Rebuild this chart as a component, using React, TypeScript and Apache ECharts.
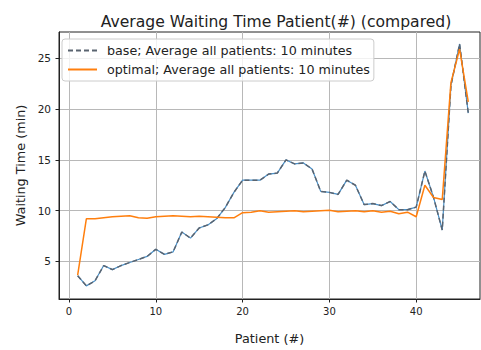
import React, { useEffect, useRef } from "react";
import * as echarts from "echarts";

const patients = [1, 2, 3, 4, 5, 6, 7, 8, 9, 10, 11, 12, 13, 14, 15, 16, 17, 18, 19, 20, 21, 22, 23, 24, 25, 26, 27, 28, 29, 30, 31, 32, 33, 34, 35, 36, 37, 38, 39, 40, 41, 42, 43, 44, 45, 46];

const baseValues = [3.6, 2.6, 3.1, 4.6, 4.2, 4.6, 4.9, 5.2, 5.5, 6.2, 5.7, 5.95, 7.9, 7.3, 8.3, 8.6, 9.2, 10.3, 11.8, 13.0, 13.0, 13.0, 13.6, 13.7, 15.0, 14.6, 14.7, 14.1, 11.9, 11.8, 11.6, 13.0, 12.5, 10.6, 10.7, 10.5, 10.9, 10.1, 10.1, 10.35, 13.9, 11.3, 8.1, 22.3, 26.4, 19.6];

const optimalValues = [3.65, 9.2, 9.2, 9.3, 9.4, 9.45, 9.5, 9.3, 9.25, 9.4, 9.45, 9.5, 9.45, 9.4, 9.45, 9.4, 9.35, 9.3, 9.3, 9.8, 9.85, 10.0, 9.85, 9.9, 9.95, 10.0, 9.9, 9.95, 10.0, 10.05, 9.9, 9.95, 10.0, 9.9, 10.0, 9.85, 9.95, 9.7, 9.85, 9.4, 12.5, 11.3, 11.1, 22.6, 25.9, 20.7];

const xTicks = [0, 10, 20, 30, 40];
const yTicks = [5, 10, 15, 20, 25];

const baseName = "base; Average all patients: 10 minutes";
const optimalName = "optimal; Average all patients: 10 minutes";

const FONT = "DejaVu Sans";

export default function App() {
  const ref = useRef<HTMLDivElement>(null);
  useEffect(() => {
    if (!ref.current) return;
    const chart = echarts.init(ref.current, undefined, { renderer: "svg" });
    const basePairs = patients.map((p, i) => [p, baseValues[i]]);
    const optPairs = patients.map((p, i) => [p, optimalValues[i]]);
    chart.setOption({
      animation: false,
      backgroundColor: "#fff",
      title: {
        text: "Average Waiting Time Patient(#) (compared)",
        left: 271,
        textAlign: "center",
        top: 9,
        textStyle: { fontFamily: FONT, fontSize: 15.6, fontWeight: "normal", color: "#222" },
      },
      grid: {
        left: 59,
        right: 1,
        top: 32,
        bottom: 39,
        show: true,
        borderColor: "#222",
        borderWidth: 1,
        backgroundColor: "transparent",
      },
      legend: {
        orient: "vertical",
        left: 62,
        top: 39,
        itemWidth: 29,
        itemHeight: 14,
        itemGap: 4,
        padding: [4, 4, 4, 5],
        borderColor: "#ccc",
        borderWidth: 1,
        borderRadius: 3,
        backgroundColor: "rgba(255,255,255,0.8)",
        itemStyle: { opacity: 0 },
        textStyle: { fontFamily: FONT, fontSize: 12.7, lineHeight: 15, color: "#222", padding: [0, 0, 0, 5] },
        data: [baseName, optimalName],
      },
      xAxis: {
        type: "value",
        min: -1.15,
        max: 47.35,
        name: "Patient (#)",
        nameLocation: "middle",
        nameGap: 33,
        nameTextStyle: { fontFamily: FONT, fontSize: 12.8, color: "#222" },
        axisLine: { show: true, onZero: false, lineStyle: { color: "#222", width: 1 } },
        axisTick: { show: true, length: 3.5, customValues: xTicks, lineStyle: { color: "#222" } },
        axisLabel: { customValues: xTicks, margin: 7, fontFamily: FONT, fontSize: 10, color: "#222" },
        splitLine: { show: true, lineStyle: { color: "#b8b8b8", width: 1 } },
      },
      yAxis: {
        type: "value",
        min: 1.31,
        max: 27.58,
        name: "Waiting Time (min)",
        nameLocation: "middle",
        nameGap: 32,
        nameTextStyle: { fontFamily: FONT, fontSize: 12.8, color: "#222" },
        axisLine: { show: true, onZero: false, lineStyle: { color: "#222", width: 1 } },
        axisTick: { show: true, length: 3.5, customValues: yTicks, lineStyle: { color: "#222" } },
        axisLabel: { customValues: yTicks, margin: 8, fontFamily: FONT, fontSize: 10.5, color: "#222" },
        splitLine: { show: true, lineStyle: { color: "#b8b8b8", width: 1 } },
      },
      series: [
        {
          name: baseName,
          type: "line",
          data: basePairs,
          symbol: "none",
          z: 3,
          lineStyle: { color: "#5a6470", width: 1.5, type: [5, 3] },
          itemStyle: { color: "#5a6470" },
        },
        {
          name: "base-under",
          type: "line",
          data: basePairs,
          symbol: "none",
          z: 2,
          lineStyle: { color: "#4a90c8", width: 1.2 },
          itemStyle: { color: "#4a90c8" },
        },
        {
          name: optimalName,
          type: "line",
          data: optPairs,
          symbol: "none",
          z: 4,
          lineStyle: { color: "#ff7f0e", width: 1.5 },
          itemStyle: { color: "#ff7f0e" },
        },
      ],
    });
    return () => chart.dispose();
  }, []);
  return <div ref={ref} style={{ position: "fixed", left: 0, top: 0, width: 481, height: 350 }} />;
}
